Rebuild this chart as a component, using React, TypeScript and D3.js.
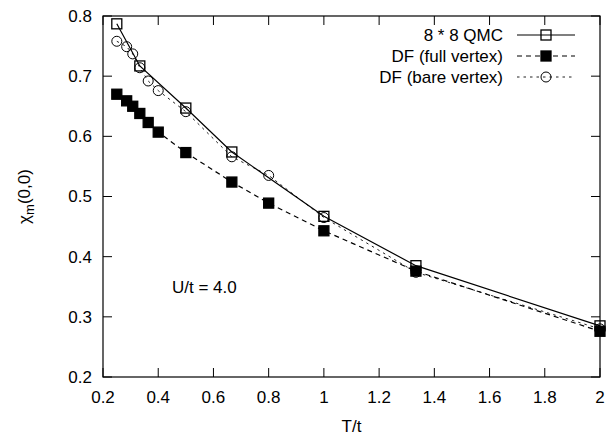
import React from "react";
import * as d3 from "d3";

const qmcT = [0.25, 1 / 3, 0.5, 2 / 3, 1, 4 / 3, 2];
const qmcV = [0.787, 0.717, 0.647, 0.574, 0.467, 0.385, 0.285];
const dfT = [0.25, 2 / 7, 4 / 13, 1 / 3, 4 / 11, 0.4, 0.5, 2 / 3, 0.8, 1, 4 / 3, 2];
const fullV = [0.670, 0.659, 0.650, 0.638, 0.623, 0.607, 0.573, 0.524, 0.489, 0.443, 0.376, 0.276];
const bareV = [0.758, 0.749, 0.737, 0.714, 0.692, 0.676, 0.641, 0.566, 0.535, 0.465, 0.374, 0.280];
const xTicks = [0.2, 0.4, 0.6, 0.8, 1, 1.2, 1.4, 1.6, 1.8, 2];
const yTicks = [0.2, 0.3, 0.4, 0.5, 0.6, 0.7, 0.8];
const legendLabels = ["8 * 8 QMC", "DF (full vertex)", "DF (bare vertex)"];

const W = 610, H = 436;
const L = 103, R = 600, T = 16, B = 377;
const FONT = "'Liberation Sans', Arial, Helvetica, sans-serif";
const FS = 17;

export default function App() {
  const x = d3.scaleLinear().domain([0.2, 2]).range([L, R]);
  const y = d3.scaleLinear().domain([0.2, 0.8]).range([B, T]);
  const line = d3.line<[number, number]>().x(d => x(d[0])).y(d => y(d[1]));
  const qmc: [number, number][] = qmcT.map((t, i) => [t, qmcV[i]]);
  const full: [number, number][] = dfT.map((t, i) => [t, fullV[i]]);
  const bare: [number, number][] = dfT.map((t, i) => [t, bareV[i]]);
  const tick = 9;
  const ms = 10;

  const sq = (cx: number, cy: number, filled: boolean, key: any) => (
    <rect key={key} x={cx - ms / 2} y={cy - ms / 2} width={ms} height={ms}
      fill={filled ? "#000" : "none"} stroke="#000" strokeWidth={1.3} />
  );
  const circ = (cx: number, cy: number, key: any) => (
    <circle key={key} cx={cx} cy={cy} r={ms / 2} fill="none" stroke="#000" strokeWidth={1} />
  );

  const legY = [35, 56, 77];
  const legTextX = 503;
  const legL = 517, legR = 575, legM = 546;

  return (
    <svg width={W} height={H} style={{ position: "absolute", left: 0, top: 0, background: "#fff" }}
      fontFamily={FONT} fontSize={FS}>
      <rect x={0} y={0} width={W} height={H} fill="#fff" />
      {/* ticks */}
      {xTicks.map(t => (
        <g key={"xt" + t}>
          <line x1={x(t)} x2={x(t)} y1={B} y2={B - tick} stroke="#000" strokeWidth={1} />
          <line x1={x(t)} x2={x(t)} y1={T} y2={T + tick} stroke="#000" strokeWidth={1} />
          <text x={x(t)} y={403} textAnchor="middle">{String(t)}</text>
        </g>
      ))}
      {yTicks.map(t => (
        <g key={"yt" + t}>
          <line x1={L} x2={L + tick} y1={y(t)} y2={y(t)} stroke="#000" strokeWidth={1} />
          <line x1={R} x2={R - tick} y1={y(t)} y2={y(t)} stroke="#000" strokeWidth={1} />
          <text x={92} y={y(t)} dy="0.35em" textAnchor="end">{t.toFixed(1)}</text>
        </g>
      ))}
      <rect x={L} y={T} width={R - L} height={B - T} fill="none" stroke="#000" strokeWidth={1.2} />

      {/* lines */}
      <path d={line(bare) || ""} fill="none" stroke="#222" strokeWidth={1} strokeDasharray="2.5,4" />
      <path d={line(full) || ""} fill="none" stroke="#000" strokeWidth={1.2} strokeDasharray="5,4" />
      <path d={line(qmc) || ""} fill="none" stroke="#000" strokeWidth={1.2} />

      {/* markers */}
      {bare.map((d, i) => circ(x(d[0]), y(d[1]), "c" + i))}
      {full.map((d, i) => sq(x(d[0]), y(d[1]), true, "f" + i))}
      {qmc.map((d, i) => sq(x(d[0]), y(d[1]), false, "q" + i))}

      {/* legend */}
      {legendLabels.map((lab, i) => (
        <text key={"lt" + i} x={legTextX} y={legY[i]} dy="0.35em" textAnchor="end">{lab}</text>
      ))}
      <line x1={legL} x2={legR} y1={legY[0]} y2={legY[0]} stroke="#000" strokeWidth={1.2} />
      {sq(legM, legY[0], false, "lq")}
      <line x1={legL} x2={legR} y1={legY[1]} y2={legY[1]} stroke="#000" strokeWidth={1.2} strokeDasharray="5,4" />
      {sq(legM, legY[1], true, "lf")}
      <line x1={legL} x2={legR} y1={legY[2]} y2={legY[2]} stroke="#222" strokeWidth={1} strokeDasharray="2.5,4" />
      {circ(legM, legY[2], "lc")}

      {/* annotation */}
      <text x={172} y={293}>U/t = 4.0</text>

      {/* axis titles */}
      <text x={(L + R) / 2} y={432} textAnchor="middle">T/t</text>
      <text transform={`translate(30, ${(T + B) / 2}) rotate(-90)`} textAnchor="middle">
        χ<tspan fontSize={13} dy={4}>m</tspan><tspan dy={-4}>(0,0)</tspan>
      </text>
    </svg>
  );
}
